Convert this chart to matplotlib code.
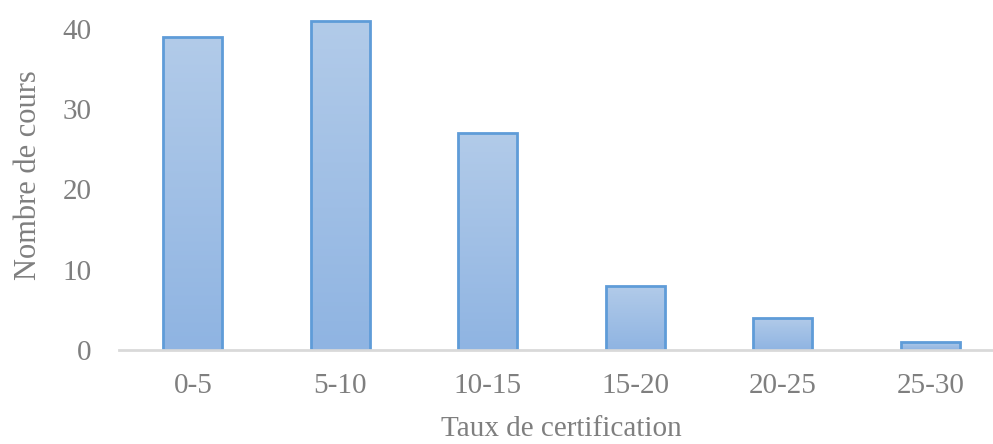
import matplotlib.pyplot as plt
import numpy as np
from matplotlib.colors import LinearSegmentedColormap

categories = ['0-5', '5-10', '10-15', '15-20', '20-25', '25-30']
counts = [39, 41, 27, 8, 4, 1]

plt.rcParams['font.family'] = ['Liberation Serif', 'DejaVu Serif']
gray = '#7f7f7f'

fig = plt.figure(figsize=(9.93, 4.44), dpi=100)
ax = fig.add_axes([0.120, 0.212, 0.891, 0.788])

x = np.arange(len(categories))
bars = ax.bar(x, counts, width=0.40, color='none', edgecolor='#5f9cd8',
              linewidth=2, zorder=3)

ax.set_xlim(-0.5, len(categories) - 0.5)
ax.set_ylim(0, 43.6)

# gradient fill, clipped to each bar
cmap = LinearSegmentedColormap.from_list('grad', ['#8fb4e2', '#b2cbe9'])
grad = np.linspace(0, 1, 256).reshape(-1, 1)
for b in bars:
    x0, w, h = b.get_x(), b.get_width(), b.get_height()
    im = ax.imshow(grad, cmap=cmap, origin='lower', aspect='auto',
                   extent=[x0, x0 + w, 0, h], zorder=2)
    im.set_clip_path(b)

ax.set_xticks(x)
ax.set_xticklabels(categories)
ax.set_yticks(np.arange(0, 41, 10))
ax.tick_params(axis='both', length=0, labelsize=21, colors=gray)
ax.tick_params(axis='y', pad=20)
ax.tick_params(axis='x', pad=17)

for s in ['top', 'right', 'left']:
    ax.spines[s].set_visible(False)
ax.spines['bottom'].set_color('#d9d9d9')
ax.spines['bottom'].set_linewidth(2)
ax.spines['bottom'].set_zorder(4)

ax.set_ylabel('Nombre de cours', fontsize=22, color=gray, labelpad=14)
ax.set_xlabel('Taux de certification', fontsize=21, color=gray, labelpad=12)

plt.savefig('out.png', dpi=100)
